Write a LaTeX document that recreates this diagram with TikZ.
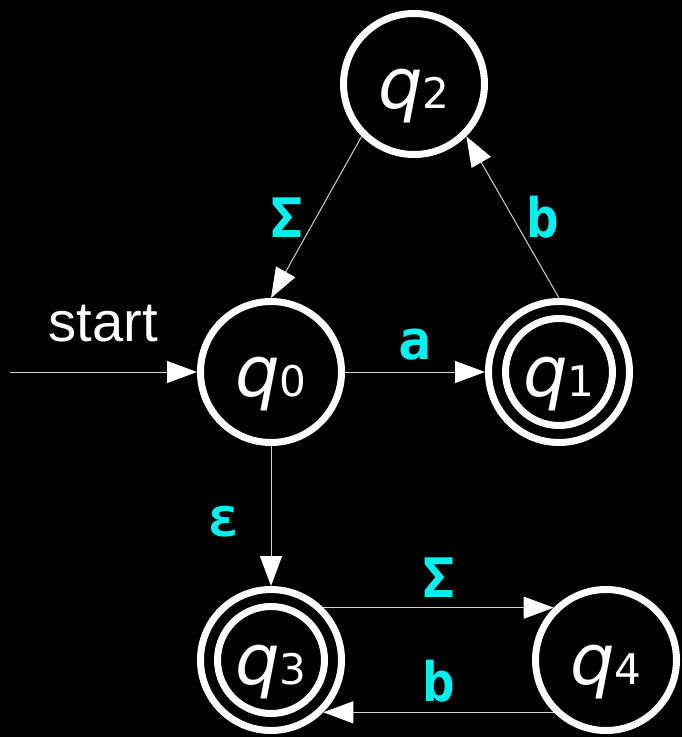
\documentclass[tikz,border=0pt]{standalone}
\usepackage{fontspec}
\setmainfont{DejaVu Sans}
\newfontfamily\startfont{Liberation Sans}
\newfontfamily\symfont{DejaVu Sans Mono}
\usetikzlibrary{arrows.meta,positioning}
\usepackage{xcolor}
\definecolor{bg}{HTML}{000000}
\definecolor{ink}{HTML}{FFFFFF}
\definecolor{wire}{HTML}{D0D0D0}
\definecolor{sym}{HTML}{00F0F0}
\tikzset{
  >={Triangle[length=6mm,width=4.4mm,fill=ink,color=ink]},
  state/.style={circle,draw=ink,line width=1.4mm,minimum size=28.2mm,inner sep=0pt,text=ink,
    text height=28.4pt,text depth=0pt,font=\fontsize{40}{40}\selectfont},
  accept/.style={state,path picture={\draw[ink,line width=1.4mm] (path picture bounding box.center) circle (10.7mm);}},
  trans/.style={->,draw=wire,line width=0.2mm},
  elabel/.style={text=sym,inner sep=0pt,font=\symfont\bfseries\fontsize{31}{31}\selectfont},
  startlabel/.style={text=ink,inner sep=0pt,font=\startfont\fontsize{32}{32}\selectfont},
}
\newcommand{\qname}[1]{{\itshape q}{\fontsize{24}{24}\selectfont #1}}

\begin{document}
\begin{tikzpicture}[x=0.2mm,y=-0.2mm]
  \fill[bg] (0,0) rectangle (682,737);
  \useasboundingbox (0,0) rectangle (682,737);

  \node[state] (q2) at (414,84) {\qname{2}};
  \node[state] (q0) at (271,372) {\qname{0}};
  \node[accept] (q1) at (559,372) {\qname{1}};
  \node[accept] (q3) at (271,660) {\qname{3}};
  \node[state] (q4) at (606,660) {\qname{4}};

  \coordinate (init) at (10,372);
  \draw[trans] (init) -- node[startlabel,above=5.8mm] (startlbl) {start} (q0);

  \draw[trans] (q2.south west) -- node[elabel,left=2.5mm] (l20) {Σ} (q0.north);
  \draw[trans] (q1.north) -- node[elabel,right=2.7mm] (l12) {b} (q2.south east);
  \draw[trans] (q0) -- node[elabel,above=2.2mm] (l01) {a} (q1);
  \draw[trans] (q0) -- node[elabel,pos=0.54,left=6.1mm] (l03) {ε} (q3);
  \draw[trans] (q3.45) -- node[elabel,above=2mm] (l34) {Σ} (q4.135);
  \draw[trans] (q4.225) -- node[elabel,above=2mm] (l43) {b} (q3.315);
\end{tikzpicture}
\end{document}
